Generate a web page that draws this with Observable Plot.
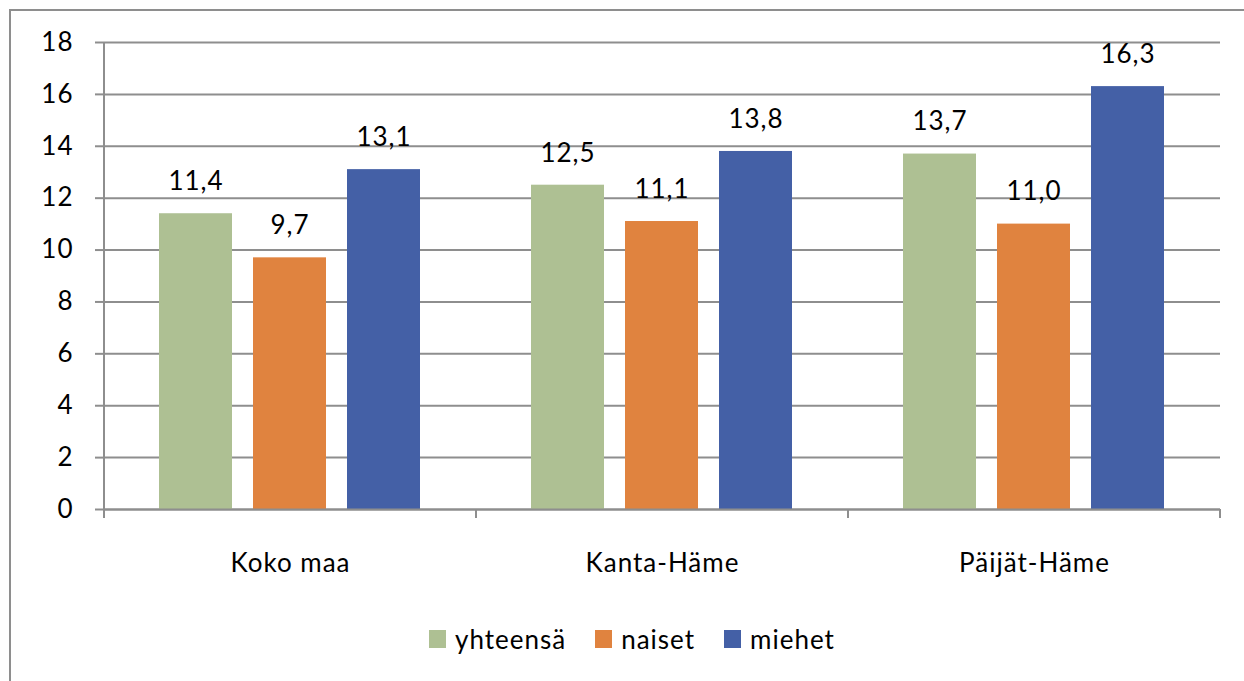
<!DOCTYPE html>
<html>
<head>
<meta charset="utf-8">
<script src="https://cdn.jsdelivr.net/npm/d3@7"></script>
<script src="https://cdn.jsdelivr.net/npm/@observablehq/plot@0.6"></script>
<style>
  html, body { margin: 0; padding: 0; background: #fff; overflow: hidden; }
  body { width: 1244px; height: 681px; position: relative; font-family: Lato, "Noto Sans", sans-serif; }
  #border { position: absolute; left: 9px; top: 9px; width: 1300px; height: 800px; border: 2px solid #8e8e8e; box-sizing: border-box; }
  #chart { position: absolute; left: 0; top: 0; }
  #legend { position: absolute; top: 623px; left: 429px; display: flex; align-items: center; font-size: 26px; letter-spacing: 1px; color: #000; }
  .item { display: flex; align-items: center; margin-right: 29px; }
  .sw { width: 17px; height: 18px; margin-right: 9px; }
</style>
</head>
<body>
<div id="border"></div>
<div id="chart"></div>
<div id="legend"></div>
<script>
const categories = ["Koko maa", "Kanta-Häme", "Päijät-Häme"];
const series = ["yhteensä", "naiset", "miehet"];
const yhteensa = [11.4, 12.5, 13.7];
const naiset = [9.7, 11.1, 11.0];
const miehet = [13.1, 13.8, 16.3];
const colors = ["#AEC093", "#E0833F", "#4460A6"];
const yTicks = [0, 2, 4, 6, 8, 10, 12, 14, 16, 18];

const values = [yhteensa, naiset, miehet];
const data = [];
categories.forEach((c, i) => series.forEach((s, j) => data.push({category: c, series: s, value: values[j][i]})));

const gray = "#8e8e8e";
const fmt = v => v.toFixed(1).replace(".", ",");

const chart = Plot.plot({
  width: 1244,
  height: 600,
  marginLeft: 104,
  marginRight: 24,
  marginTop: 42,
  marginBottom: 91,
  style: {fontFamily: "Lato, 'Noto Sans', sans-serif", background: "transparent", letterSpacing: "1px"},
  fx: {domain: categories, padding: 0, axis: null, label: null},
  x: {domain: series, paddingInner: 0.223, paddingOuter: 0.59, axis: null, label: null},
  y: {domain: [0, 18], axis: null, label: null},
  color: {domain: series, range: colors},
  marks: [
    Plot.gridY(yTicks, {stroke: gray, strokeOpacity: 1, strokeWidth: 2}),
    Plot.axisY(yTicks, {tickSize: 9, tickPadding: 22, stroke: gray, strokeWidth: 2, fill: "#000", fontSize: 26, tickFormat: d => String(d)}),
    Plot.barY(data, {fx: "category", x: "series", y: "value", fill: "series"}),
    Plot.ruleY([0], {stroke: gray, strokeWidth: 2}),
    Plot.text(data, {fx: "category", x: "series", y: "value", text: d => fmt(d.value), dy: -32, fontSize: 26, fill: "#000"}),
    Plot.axisFx({anchor: "bottom", tickSize: 0, tickPadding: 44, fontSize: 26, fill: "#000", label: null})
  ]
});
document.getElementById("chart").appendChild(chart);

// axis line and category separators derived from the plot's own scales
const fx = chart.scale("fx");
const y = chart.scale("y");
const y0 = y.apply(0), yTop = y.apply(18);
const svg = d3.select(chart);
const bounds = categories.map(c => fx.apply(c));
bounds.push(fx.apply(categories[categories.length - 1]) + fx.bandwidth);
const g = svg.append("g").attr("stroke", gray).attr("stroke-width", 2);
g.append("line").attr("x1", bounds[0]).attr("x2", bounds[0]).attr("y1", yTop).attr("y2", y0);
bounds.forEach(b => g.append("line").attr("x1", b).attr("x2", b).attr("y1", y0).attr("y2", y0 + 9));

const legend = document.getElementById("legend");
series.forEach((s, i) => {
  const it = document.createElement("div"); it.className = "item";
  const sw = document.createElement("div"); sw.className = "sw"; sw.style.background = colors[i];
  const t = document.createElement("span"); t.textContent = s;
  it.appendChild(sw); it.appendChild(t); legend.appendChild(it);
});
</script>
</body>
</html>
